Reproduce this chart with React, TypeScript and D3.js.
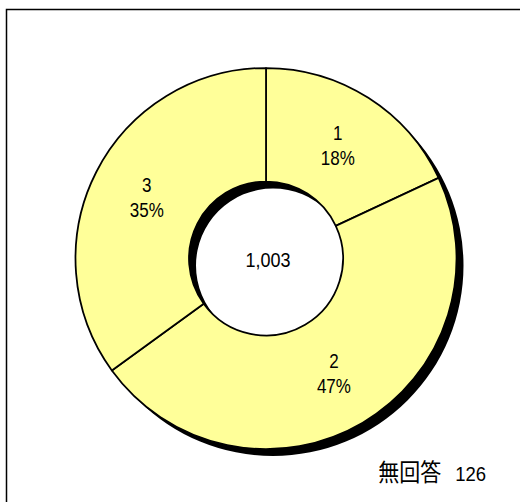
import React from 'react';
import * as d3 from 'd3';

const categories = ['1', '2', '3'];
const values = [181, 471, 351];
const totalLabel = '1,003';
const noAnswerLabel = '無回答';
const noAnswerValue = 126;

const W = 520;
const H = 502;
const cx = 266;
const cy = 258.5;
const rOuter = 190.5;
const rInner = 77;
const shadowDx = 7;
const shadowDy = 7;
const fillColor = '#FFFF99';
const font = '"Liberation Sans", Arial, sans-serif';
const stretch = 1.14;

function T({ x, y, size, anchor = 'middle', children }: any) {
  return (
    <g transform={`translate(${x},${y}) scale(1,${stretch})`}>
      <text x={0} y={0} fontFamily={font} fontSize={size} textAnchor={anchor} fill="#000">
        {children}
      </text>
    </g>
  );
}

export default function App() {
  const total = d3.sum(values);
  const pie = d3.pie<number>().sort(null).value((d) => d);
  const arcs = pie(values);
  const arcGen = d3.arc<d3.PieArcDatum<number>>().innerRadius(rInner).outerRadius(rOuter);
  const ring = d3.arc()({ innerRadius: rInner, outerRadius: rOuter, startAngle: 0, endAngle: 2 * Math.PI } as any) as string;

  return (
    <svg width={W} height={H} style={{ position: 'absolute', left: 0, top: 0, background: '#fff' }}>
      <rect x={6.5} y={9.5} width={W + 20} height={H + 20} fill="#fff" stroke="#000" strokeWidth={1.5} />
      <g transform={`translate(${cx + shadowDx},${cy + shadowDy})`}>
        <path d={ring} fill="#000" />
      </g>
      <g transform={`translate(${cx},${cy})`}>
        {arcs.map((a, i) => (
          <path key={i} d={arcGen(a) as string} fill={fillColor} stroke="#000" strokeWidth={1.75} strokeLinejoin="round" />
        ))}
        {arcs.map((a, i) => {
          const [lx, ly] = arcGen.centroid(a);
          const pct = Math.round((values[i] / total) * 100);
          return (
            <g key={'l' + i}>
              <T x={lx} y={ly - 5.5} size={17}>{categories[i]}</T>
              <T x={lx} y={ly + 19.5} size={17}>{pct}%</T>
            </g>
          );
        })}
        <T x={2} y={8.5} size={18}>{totalLabel}</T>
      </g>
      <T x={486} y={481} size={18.5} anchor="end">
        <tspan fontFamily='"Noto Sans CJK JP", sans-serif' fontSize={21}>{noAnswerLabel}</tspan>
        <tspan dx={14}>{noAnswerValue}</tspan>
      </T>
    </svg>
  );
}
